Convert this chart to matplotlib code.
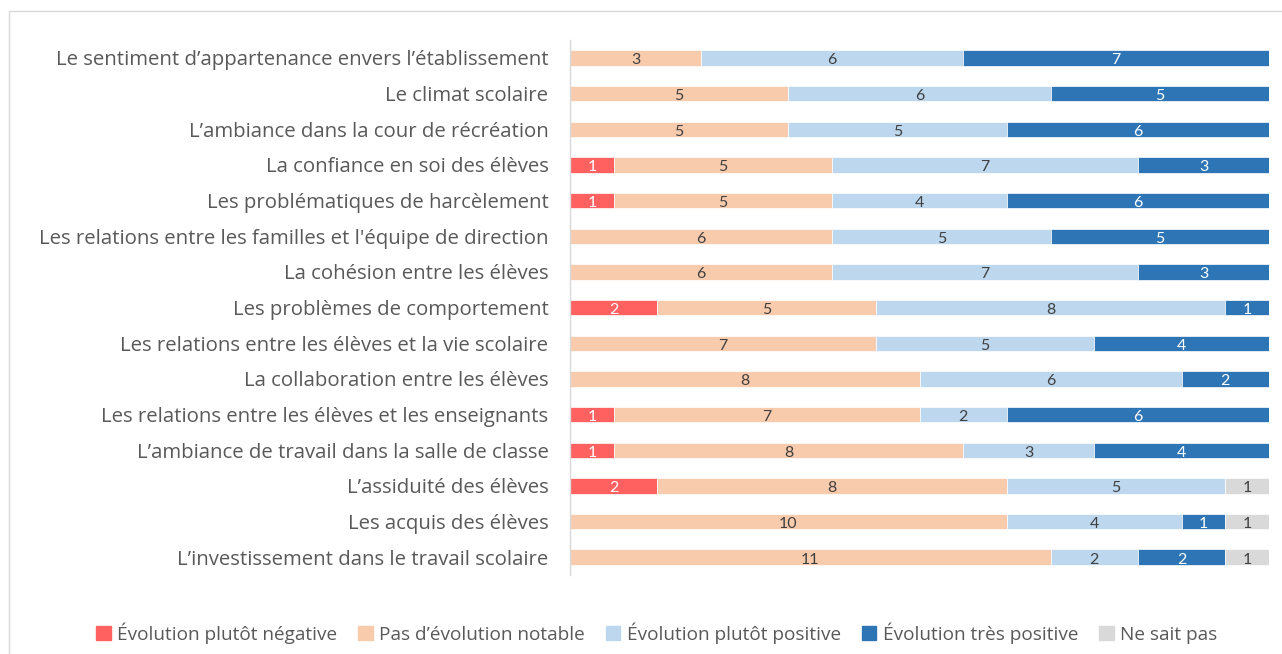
import numpy as np
import matplotlib.pyplot as plt
import matplotlib.patches as mpatches

plt.rcParams['font.family'] = ['Open Sans', 'DejaVu Sans']

categories = [
    "Le sentiment d’appartenance envers l’établissement",
    "Le climat scolaire",
    "L’ambiance dans la cour de récréation",
    "La confiance en soi des élèves",
    "Les problématiques de harcèlement",
    "Les relations entre les familles et l'équipe de direction",
    "La cohésion entre les élèves",
    "Les problèmes de comportement",
    "Les relations entre les élèves et la vie scolaire",
    "La collaboration entre les élèves",
    "Les relations entre les élèves et les enseignants",
    "L’ambiance de travail dans la salle de classe",
    "L’assiduité des élèves",
    "Les acquis des élèves",
    "L’investissement dans le travail scolaire",
]

series_names = [
    "Évolution plutôt négative",
    "Pas d’évolution notable",
    "Évolution plutôt positive",
    "Évolution très positive",
    "Ne sait pas",
]

negative      = [0, 0, 0, 1, 1, 0, 0, 2, 0, 0, 1, 1, 2, 0, 0]
no_change     = [3, 5, 5, 5, 5, 6, 6, 5, 7, 8, 7, 8, 8, 10, 11]
positive      = [6, 6, 5, 7, 4, 5, 7, 8, 5, 6, 2, 3, 5, 4, 2]
very_positive = [7, 5, 6, 3, 6, 5, 3, 1, 4, 2, 6, 4, 0, 1, 2]
dont_know     = [0, 0, 0, 0, 0, 0, 0, 0, 0, 0, 0, 0, 1, 1, 1]

series = [negative, no_change, positive, very_positive, dont_know]
colors = ['#FF6161', '#F8CBAD', '#BDD7EE', '#2E75B6', '#D9D9D9']
text_colors = ['white', '#404040', '#404040', 'white', '#404040']

fig = plt.figure(figsize=(12.82, 6.54), dpi=100)
ax = fig.add_axes([0.4446, 0.1208, 0.5453, 0.818])

y = np.arange(len(categories))
left = np.zeros(len(categories))
for vals, col, tcol, name in zip(series, colors, text_colors, series_names):
    vals = np.array(vals, dtype=float)
    bars = ax.barh(y, vals, left=left, height=0.43, color=col,
                   edgecolor='white', linewidth=0.5, label=name)
    for b, v in zip(bars, vals):
        if v > 0:
            ax.text(b.get_x() + b.get_width() / 2, b.get_y() + b.get_height() / 2 + 0.07,
                    f'{int(v)}', ha='center', va='center', fontsize=11.5,
                    color=tcol, family=['Lato', 'DejaVu Sans'])
    left += vals

ax.set_xlim(0, 16)
ax.set_ylim(len(categories) - 0.5, -0.5)
ax.set_yticks(y)
ax.set_yticklabels(categories, fontsize=14.7, color='#595959')
ax.tick_params(axis='y', length=0, pad=15.5)
ax.set_xticks([])
for s in ['top', 'right', 'bottom']:
    ax.spines[s].set_visible(False)
ax.spines['left'].set_color('#D9D9D9')
ax.spines['left'].set_linewidth(1)

handles = [mpatches.Patch(color=c, label=n) for c, n in zip(colors, series_names)]
leg = fig.legend(handles=handles, loc='center', bbox_to_anchor=(0.5125, 0.032), ncol=5,
                 frameon=False, fontsize=13.7, handlelength=0.75, handleheight=0.75,
                 handletextpad=0.35, columnspacing=1.1)
for t in leg.get_texts():
    t.set_color('#595959')

# outer frame
fig.add_artist(plt.Rectangle((9 / 1282, -0.01), 1.0, 1 - 11 / 654 + 0.01,
                             transform=fig.transFigure, fill=False,
                             edgecolor='#D9D9D9', linewidth=1))

fig.savefig('out.png', dpi=100)
